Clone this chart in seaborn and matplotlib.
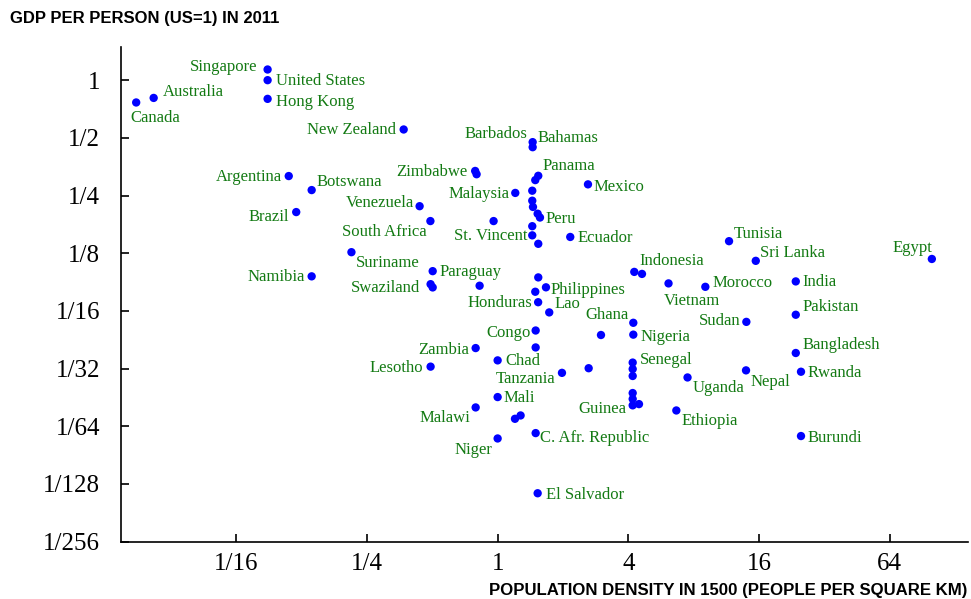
import pandas as pd
import matplotlib.pyplot as plt
import seaborn as sns

# Population density in 1500 vs GDP per person (US=1) in 2011
country = [
    "Canada", "Australia", "Singapore", "United States", "Hong Kong", "New Zealand",
    "Argentina", "Botswana", "Brazil", "Venezuela", "South Africa", "Suriname",
    "Namibia", "Paraguay", "Swaziland", "", "Barbados", "Bahamas",
    "Zimbabwe", "", "Panama", "", "Mexico", "Malaysia",
    "", "", "", "", "Peru", "",
    "", "St. Vincent", "", "Ecuador", "", "Philippines",
    "", "", "Honduras", "Lao", "Indonesia", "",
    "Vietnam", "Ghana", "", "Nigeria", "Congo", "",
    "Zambia", "Chad", "Lesotho", "Tanzania", "", "Senegal",
    "", "", "", "", "Guinea", "",
    "Uganda", "Ethiopia", "Mali", "Malawi", "", "",
    "C. Afr. Republic", "Niger", "El Salvador", "Tunisia", "Sri Lanka", "Egypt",
    "Morocco", "India", "Pakistan", "Sudan", "Bangladesh", "Rwanda",
    "Nepal", "Burundi",
]
density = [
    0.0216, 0.026, 0.0871, 0.0871, 0.0871, 0.369,
    0.109, 0.139, 0.118, 0.437, 0.49, 0.212,
    0.139, 0.502, 0.491, 0.502, 1.45, 1.45,
    0.788, 0.80, 1.539, 1.491, 2.608, 1.206,
    1.444, 1.444, 1.455, 1.529, 1.567, 0.958,
    1.444, 1.444, 1.539, 2.161, 1.539, 1.67,
    1.491, 0.826, 1.537, 1.729, 4.263, 4.626,
    6.13, 4.219, 2.994, 4.219, 1.497, 1.497,
    0.792, 1.0, 0.491, 1.979, 2.627, 4.191,
    4.191, 4.191, 4.191, 4.191, 4.191, 4.481,
    7.5, 6.66, 1.0, 0.792, 1.202, 1.276,
    1.497, 1.0, 1.529, 11.65, 15.47, 100.2,
    9.06, 23.65, 23.65, 14.0, 23.65, 25.0,
    13.95, 25.0,
]
gdp = [
    0.765, 0.808, 1.137, 1.0, 0.799, 0.553,
    0.316, 0.267, 0.205, 0.22, 0.184, 0.1266,
    0.0947, 0.1008, 0.0862, 0.0829, 0.475, 0.447,
    0.336, 0.323, 0.317, 0.301, 0.286, 0.258,
    0.265, 0.235, 0.218, 0.201, 0.192, 0.184,
    0.173, 0.155, 0.14, 0.152, 0.0935, 0.083,
    0.0787, 0.0846, 0.0694, 0.0614, 0.0999, 0.0975,
    0.087, 0.0542, 0.0468, 0.047, 0.0494, 0.0403,
    0.04, 0.0345, 0.032, 0.0297, 0.0314, 0.0336,
    0.0311, 0.0286, 0.0233, 0.0217, 0.0201, 0.0204,
    0.0281, 0.0189, 0.0222, 0.0196, 0.0171, 0.0178,
    0.0144, 0.0135, 0.00699, 0.1445, 0.1141, 0.1167,
    0.0835, 0.0891, 0.0597, 0.0548, 0.0377, 0.0301,
    0.0306, 0.0139,
]

x_ticks = [1/16, 1/4, 1, 4, 16, 64]
x_tick_labels = ["1/16", "1/4", "1", "4", "16", "64"]
y_ticks = [1, 1/2, 1/4, 1/8, 1/16, 1/32, 1/64, 1/128, 1/256]
y_tick_labels = ["1", "1/2", "1/4", "1/8", "1/16", "1/32", "1/64", "1/128", "1/256"]

# label placement: (horizontal alignment, dx px, dy px downward)
label_pos = {
    "Canada": ("left", -6, 15), "Australia": ("left", 9, -7),
    "Singapore": ("right", -10, -3), "United States": ("left", 8, 0),
    "Hong Kong": ("left", 8, 2), "New Zealand": ("right", -8, 0),
    "Argentina": ("right", -7, 0), "Botswana": ("left", 5, -9),
    "Brazil": ("right", -7, 4), "Venezuela": ("right", -6, -4),
    "South Africa": ("right", -4, 10), "Suriname": ("left", 4, 10),
    "Namibia": ("right", -7, 0), "Paraguay": ("left", 7, 0),
    "Swaziland": ("right", -10, 3), "Barbados": ("right", -5, -9),
    "Bahamas": ("left", 5, -10), "Zimbabwe": ("right", -8, 0),
    "Panama": ("left", 4, -11), "Mexico": ("left", 6, 2),
    "Malaysia": ("right", -6, 0), "Peru": ("left", 6, 0),
    "St. Vincent": ("right", -5, 0), "Ecuador": ("left", 7, 0),
    "Philippines": ("left", 5, 2), "Honduras": ("right", -6, 0),
    "Lao": ("left", 5, -9), "Indonesia": ("left", 5, -12),
    "Vietnam": ("left", -5, 17), "Ghana": ("right", -5, -9),
    "Nigeria": ("left", 7, 1), "Congo": ("right", -5, 1),
    "Zambia": ("right", -7, 1), "Chad": ("left", 8, 0),
    "Lesotho": ("right", -7, 0), "Tanzania": ("right", -7, 5),
    "Senegal": ("left", 7, -4), "Guinea": ("right", -6, 3),
    "Uganda": ("left", 5, 10), "Ethiopia": ("left", 5, 10),
    "Mali": ("left", 6, 0), "Malawi": ("right", -5, 10),
    "C. Afr. Republic": ("left", 4, 4), "Niger": ("right", -5, 11),
    "El Salvador": ("left", 8, 1), "Tunisia": ("left", 5, -8),
    "Sri Lanka": ("left", 4, -9), "Egypt": ("right", 1, -12),
    "Morocco": ("left", 7, -5), "India": ("left", 7, 0),
    "Pakistan": ("left", 7, -9), "Sudan": ("right", -6, -2),
    "Bangladesh": ("left", 7, -9), "Rwanda": ("left", 7, 0),
    "Nepal": ("left", 4, 11), "Burundi": ("left", 7, 1),
}

df = pd.DataFrame({"country": country, "density": density, "gdp": gdp})

sns.set_style("white")
plt.rcParams["font.family"] = ["Liberation Serif", "DejaVu Serif"]
plt.rcParams["text.color"] = "black"

fig = plt.figure(figsize=(9.71, 5.99), dpi=100)
ax = fig.add_axes([0.1243, 0.0957, 0.8726, 0.8263])

sns.scatterplot(data=df, x="density", y="gdp", color="#0000ff", s=36,
                edgecolor="none", linewidth=0, ax=ax, zorder=3)

ax.set_xscale("log", base=2)
ax.set_yscale("log", base=2)
ax.set_xlim(2 ** -5.77, 2 ** 7.2)
ax.set_ylim(2 ** -8, 2 ** 0.58)

ax.set_xticks(x_ticks)
ax.set_xticklabels(x_tick_labels)
ax.set_yticks(y_ticks)
ax.set_yticklabels(y_tick_labels)
ax.minorticks_off()
ax.tick_params(axis="both", direction="in", length=6, width=1.2,
               labelsize=18, colors="black", bottom=True, left=True)
ax.tick_params(axis="x", pad=8)
ax.tick_params(axis="y", pad=15)

for side in ["top", "right"]:
    ax.spines[side].set_visible(False)
for side in ["left", "bottom"]:
    ax.spines[side].set_linewidth(1.2)
    ax.spines[side].set_color("black")

ax.set_xlabel("")
ax.set_ylabel("")

for _, row in df.iterrows():
    name = row["country"]
    if not name:
        continue
    ha, dx, dy = label_pos[name]
    ax.annotate(name, (row["density"], row["gdp"]), xytext=(dx, -dy - 1),
                textcoords="offset pixels", ha=ha, va="center",
                fontsize=12, color="#137a13")

fig.text(10 / 971, 1 - 18 / 599, "GDP PER PERSON (US=1) IN 2011",
         family="Liberation Sans", weight="bold", fontsize=12,
         color="black", ha="left", va="center")
fig.text(967 / 971, 1 - 590 / 599,
         "POPULATION DENSITY IN 1500 (PEOPLE PER SQUARE KM)",
         family="Liberation Sans", weight="bold", fontsize=12.1,
         color="black", ha="right", va="center")

fig.savefig("out.png", dpi=100)
